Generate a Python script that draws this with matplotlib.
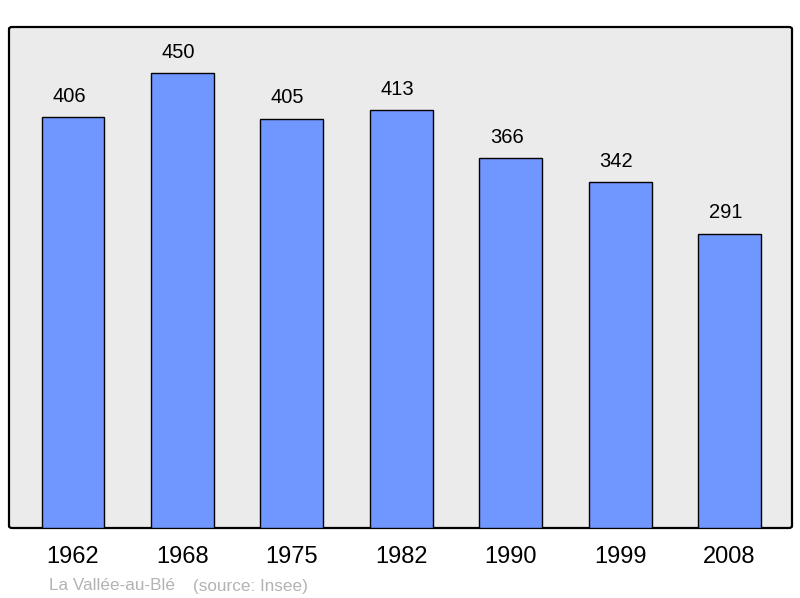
import matplotlib.pyplot as plt
from matplotlib.patches import FancyBboxPatch

years = ["1962", "1968", "1975", "1982", "1990", "1999", "2008"]
population = [406, 450, 405, 413, 366, 342, 291]

BAR_C = "#7097ff"
BG_C = "#ebebeb"

plt.rcParams["font.family"] = ["Liberation Sans", "DejaVu Sans"]

fig = plt.figure(figsize=(8, 5.98), dpi=100)
ax = fig.add_axes([9 / 800, 70 / 598, 783 / 800, 501 / 598])
ax.set_facecolor("none")
ax.set_xlim(-0.585, 6.57)
ax.set_ylim(0, 495.5)

# rounded frame with grey fill
frame = FancyBboxPatch((0, 0), 1, 1, boxstyle="round,pad=0,rounding_size=0.004",
                       transform=ax.transAxes, facecolor=BG_C, edgecolor="black",
                       lw=1.6, zorder=0, clip_on=False)
ax.add_patch(frame)

x = range(len(years))
ax.bar(x, population, width=0.575, color=BAR_C, edgecolor="black", lw=1.0, zorder=2)
for xi, v in zip(x, population):
    ax.annotate(str(v), (xi, v), xytext=(-3, 11), textcoords="offset points",
                ha="center", va="baseline", fontsize=14.5)

for s in ax.spines.values():
    s.set_visible(False)
ax.set_xticks(list(x))
ax.set_xticklabels(years, fontsize=17)
ax.tick_params(axis="x", length=0, pad=13)
ax.set_yticks([])

fig.text(49 / 800, 1 - 586 / 598, "La Vallée-au-Blé", color="#b3b3b3", fontsize=12.3,
         ha="left", va="center")
fig.text(193 / 800, 1 - 586 / 598, "(source: Insee)", color="#b3b3b3", fontsize=12.3,
         ha="left", va="center")

fig.savefig("out.png", dpi=100)
